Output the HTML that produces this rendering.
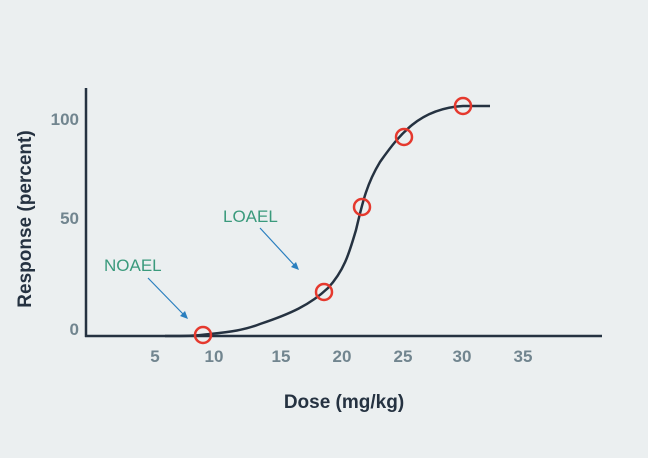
<!DOCTYPE html>
<html><head><meta charset="utf-8"><style>
html,body{margin:0;padding:0;background:#ebeff0;}
svg{display:block;font-family:"Liberation Sans",sans-serif;}
</style></head><body>
<svg width="648" height="458" viewBox="0 0 648 458">
<rect width="648" height="458" fill="#ebeff0"/>
<line x1="86" y1="88" x2="86" y2="337" stroke="#253241" stroke-width="2.5"/>
<line x1="85" y1="336" x2="602" y2="336" stroke="#253241" stroke-width="2.5"/>
<g fill="#71858f" font-weight="bold" font-size="17">
<text x="79" y="125" text-anchor="end">100</text>
<text x="79" y="224" text-anchor="end">50</text>
<text x="79" y="335" text-anchor="end">0</text>
<text x="155" y="362" text-anchor="middle">5</text>
<text x="214" y="362" text-anchor="middle">10</text>
<text x="281" y="362" text-anchor="middle">15</text>
<text x="342" y="362" text-anchor="middle">20</text>
<text x="403" y="362" text-anchor="middle">25</text>
<text x="462" y="362" text-anchor="middle">30</text>
<text x="523" y="362" text-anchor="middle">35</text>
</g>
<text x="344" y="408" text-anchor="middle" fill="#253241" font-weight="bold" font-size="19">Dose (mg/kg)</text>
<text transform="translate(31,219) rotate(-90)" text-anchor="middle" fill="#253241" font-weight="bold" font-size="19">Response (percent)</text>
<path d="M165,336 C185,336 195,336 210,334 C230,332 245,330 260,324 C290,314 310,305 328,288 C345,270 350,250 356,230 C362,205 366,185 380,162 C392,145 400,135 412,125 C428,112 445,107 463,106 L490,106" fill="none" stroke="#253241" stroke-width="2.5"/>
<g fill="none" stroke="#e5392e" stroke-width="2.5">
<circle cx="203" cy="335" r="8"/>
<circle cx="324" cy="292" r="8"/>
<circle cx="362" cy="207" r="8"/>
<circle cx="404" cy="137" r="8"/>
<circle cx="463" cy="106" r="8"/>
</g>
<g fill="#3a9a7c" font-size="17">
<text x="104" y="271">NOAEL</text>
<text x="223" y="222">LOAEL</text>
</g>
<g stroke="#2a7fbf" stroke-width="1.2">
<line x1="148" y1="278" x2="185" y2="316"/>
<line x1="260" y1="228" x2="296" y2="267"/>
</g>
<g fill="#2a7fbf">
<polygon points="188,319 180,316 185,311"/>
<polygon points="299,270 291,267 296,262"/>
</g>
</svg>
</body></html>
